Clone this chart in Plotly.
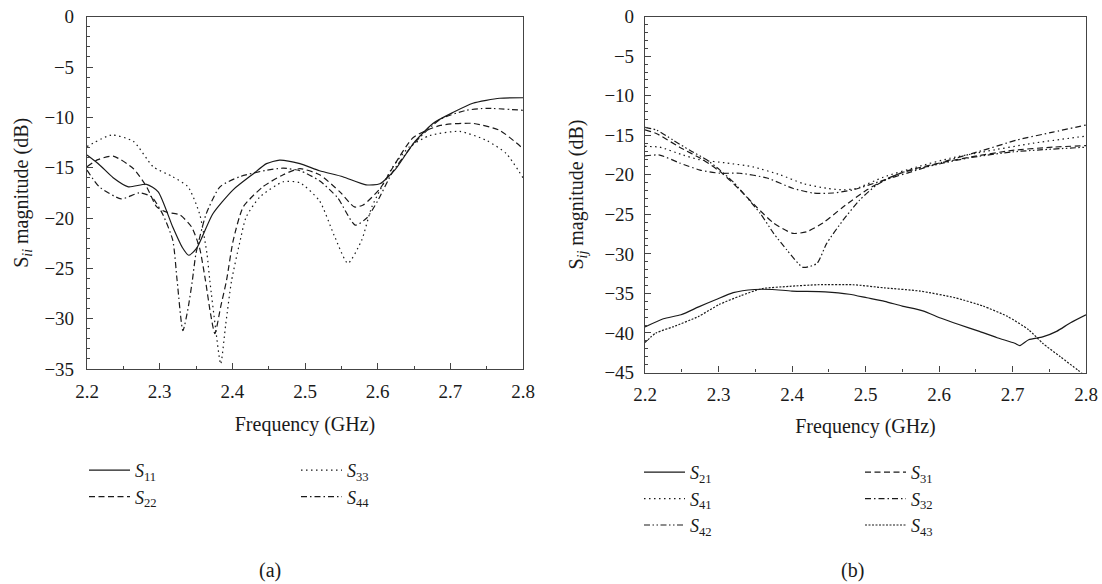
import plotly.graph_objects as go

# ---------------- data: panel (a) ----------------
f_s11 = [2.2, 2.217, 2.236, 2.257, 2.282, 2.298, 2.318, 2.331, 2.340, 2.351, 2.373, 2.401, 2.429, 2.447,
         2.465, 2.493, 2.52, 2.552, 2.584, 2.603, 2.624, 2.649, 2.676, 2.704, 2.731, 2.768, 2.8]
s11 = [-13.75, -14.7, -16.0, -16.9, -16.65, -17.4, -20.9, -22.9, -23.7, -23.0, -19.6, -17.2, -15.6, -14.6,
       -14.25, -14.6, -15.3, -15.9, -16.7, -16.6, -15.2, -12.6, -10.6, -9.5, -8.6, -8.1, -8.05]

f_s22 = [2.2, 2.215, 2.236, 2.264, 2.282, 2.296, 2.309, 2.328, 2.344, 2.355, 2.363, 2.370, 2.376, 2.384,
         2.392, 2.401, 2.415, 2.442, 2.47, 2.493, 2.52, 2.548, 2.568, 2.58, 2.603, 2.624, 2.649, 2.686,
         2.731, 2.768, 2.8]
s22 = [-14.9, -14.2, -13.85, -15.1, -16.9, -18.9, -19.4, -19.7, -20.9, -23.0, -26.2, -29.5, -31.5, -28.8,
       -26.2, -22.3, -18.9, -16.9, -15.7, -15.1, -15.7, -17.4, -18.9, -18.7, -17.1, -14.6, -12.0, -10.8,
       -10.6, -11.3, -13.1]

f_s33 = [2.2, 2.234, 2.264, 2.291, 2.318, 2.339, 2.355, 2.365, 2.369, 2.377, 2.384, 2.391, 2.399, 2.41,
         2.419, 2.438, 2.47, 2.493, 2.52, 2.54, 2.559, 2.578, 2.592, 2.621, 2.644, 2.672, 2.713, 2.75,
         2.777, 2.8]
s33 = [-12.9, -11.75, -12.4, -14.9, -15.9, -16.9, -19.6, -23.5, -26.2, -31.0, -34.5, -30.5, -26.2, -22.5,
       -19.9, -17.9, -16.4, -16.5, -18.3, -21.7, -24.5, -22.2, -18.9, -14.9, -12.9, -11.8, -11.4, -12.3,
       -13.6, -16.0]

f_s44 = [2.2, 2.217, 2.247, 2.272, 2.289, 2.304, 2.318, 2.324, 2.332, 2.339, 2.345, 2.35, 2.364, 2.383,
         2.41, 2.447, 2.47, 2.493, 2.52, 2.545, 2.569, 2.585, 2.6, 2.62, 2.65, 2.686, 2.722, 2.75, 2.8]
s44 = [-15.25, -16.9, -18.1, -17.5, -17.9, -19.6, -22.2, -26.2, -31.2, -29.0, -26.2, -23.5, -19.6, -16.9,
       -15.9, -15.25, -15.05, -15.3, -16.3, -18.0, -20.7, -20.0, -18.3, -15.5, -12.6, -10.2, -9.3, -9.1, -9.3]

# ---------------- data: panel (b) ----------------
f_s21 = [2.2, 2.225, 2.249, 2.273, 2.296, 2.32, 2.349, 2.373, 2.4, 2.445, 2.478, 2.502, 2.526, 2.55,
         2.578, 2.602, 2.626, 2.655, 2.679, 2.703, 2.71, 2.722, 2.741, 2.76, 2.779, 2.8]
s21 = [-39.24, -38.2, -37.7, -36.7, -35.8, -34.9, -34.5, -34.5, -34.7, -34.8, -35.1, -35.55, -36.0, -36.6,
       -37.2, -38.1, -38.9, -39.8, -40.6, -41.3, -41.6, -40.85, -40.5, -39.8, -38.7, -37.7]

f_s43 = [2.2, 2.215, 2.239, 2.273, 2.301, 2.33, 2.359, 2.397, 2.435, 2.483, 2.526, 2.574, 2.622, 2.66,
         2.693, 2.722, 2.741, 2.765, 2.789, 2.8]
s43 = [-41.2, -40.0, -39.2, -37.9, -36.4, -35.3, -34.4, -34.1, -33.9, -33.9, -34.3, -34.7, -35.55, -36.6,
       -37.9, -39.6, -41.3, -43.0, -44.7, -45.5]

f_s31 = [2.2, 2.216, 2.247, 2.279, 2.305, 2.329, 2.352, 2.375, 2.401, 2.42, 2.442, 2.469, 2.502, 2.529,
         2.56, 2.601, 2.646, 2.7, 2.755, 2.8]
s31 = [-14.3, -14.8, -16.5, -18.1, -19.8, -21.9, -24.1, -26.1, -27.4, -27.2, -26.1, -24.1, -21.9, -20.5,
       -19.4, -18.5, -17.7, -16.9, -16.5, -16.3]

f_s42 = [2.2, 2.216, 2.238, 2.261, 2.284, 2.302, 2.32, 2.338, 2.357, 2.375, 2.393, 2.415, 2.434, 2.447,
         2.469, 2.492, 2.515, 2.547, 2.592, 2.638, 2.7, 2.8]
s42 = [-14.0, -14.35, -15.6, -16.9, -18.1, -19.4, -20.9, -22.8, -24.9, -27.4, -29.5, -31.7, -31.2, -28.7,
       -25.8, -23.2, -21.3, -19.8, -18.8, -17.9, -17.1, -16.5]

f_s41 = [2.2, 2.22, 2.252, 2.275, 2.311, 2.347, 2.384, 2.415, 2.447, 2.47, 2.488, 2.524, 2.57, 2.615,
         2.66, 2.728, 2.8]
s41 = [-16.4, -16.5, -17.5, -18.1, -18.5, -19.0, -20.0, -21.1, -21.7, -21.9, -21.7, -20.3, -19.0, -17.9,
       -17.1, -16.0, -15.1]

f_s32 = [2.2, 2.22, 2.247, 2.275, 2.302, 2.329, 2.366, 2.401, 2.429, 2.456, 2.483, 2.524, 2.57, 2.615,
         2.66, 2.706, 2.755, 2.8]
s32 = [-17.6, -17.5, -18.5, -19.4, -19.8, -19.8, -20.4, -21.7, -22.3, -22.3, -21.9, -20.7, -19.4, -18.1,
       -16.9, -15.6, -14.6, -13.7]

x_ticks = [2.2, 2.3, 2.4, 2.5, 2.6, 2.7, 2.8]
x_title = "Frequency (GHz)"
ya_title = "S<sub><i>ii</i></sub> magnitude (dB)"
yb_title = "S<sub><i>ij</i></sub> magnitude (dB)"

FONT = "Liberation Serif"
INK = "#1a1a1a"
W, H = 1102, 584
TICK_SIZE = 19
TEXT_SIZE = 20
LEG_SIZE = 18

fig = go.Figure()

def add(fx, fy, name, dash, xa, ya, legend):
    fig.add_trace(go.Scatter(
        x=fx, y=fy, mode="lines", name=name, xaxis=xa, yaxis=ya, legend=legend,
        line=dict(color=INK, width=1.2, dash=dash, shape="spline", smoothing=0.6),
        hoverinfo="x+y+name"))

def lab(n):
    return "<i>S</i><sub>%s</sub>" % n

DASH = "6px,3.5px"
DOT = "1.5px,3.5px"
DASHDOT = "6px,3px,1.5px,3px"
DASHDOTDOT = "6px,2.5px,1.5px,2.5px,1.5px,2.5px"
FINEDOT = "2px,1.5px"

add(f_s11, s11, lab("11"), "solid", "x", "y", "legend")
add(f_s22, s22, lab("22"), DASH, "x", "y", "legend")
add(f_s33, s33, lab("33"), DOT, "x", "y", "legend2")
add(f_s44, s44, lab("44"), DASHDOT, "x", "y", "legend2")

add(f_s21, s21, lab("21"), "solid", "x2", "y2", "legend3")
add(f_s41, s41, lab("41"), DOT, "x2", "y2", "legend3")
add(f_s42, s42, lab("42"), DASHDOTDOT, "x2", "y2", "legend3")
add(f_s31, s31, lab("31"), DASH, "x2", "y2", "legend4")
add(f_s32, s32, lab("32"), DASHDOT, "x2", "y2", "legend4")
add(f_s43, s43, lab("43"), FINEDOT, "x2", "y2", "legend4")

def px_x(p):
    return p / W

def px_y(p):
    return 1 - p / H

axis_common = dict(
    showline=True, linecolor="#444", linewidth=1.2, mirror=True,
    ticks="inside", ticklen=6, tickwidth=1, tickcolor="#444",
    showgrid=False, zeroline=False, automargin=False,
    tickfont=dict(family=FONT, size=TICK_SIZE, color=INK),
    title_font=dict(family=FONT, size=TEXT_SIZE, color=INK),
)
xminor = dict(ticks="inside", ticklen=3, dtick=0.05, tickcolor="#444")
yminor = dict(ticks="inside", ticklen=3, dtick=1, tickcolor="#444")

fig.update_layout(
    width=W, height=H,
    margin=dict(l=0, r=0, t=0, b=0),
    paper_bgcolor="white", plot_bgcolor="white",
    font=dict(family=FONT, size=TEXT_SIZE, color=INK),
    xaxis=dict(domain=[px_x(87), px_x(523)], range=[2.2, 2.8], tickvals=x_ticks,
               tickformat=".1f", minor=xminor, ticklabelstandoff=5,
               anchor="y", title=dict(text=x_title, standoff=16), **axis_common),
    yaxis=dict(domain=[px_y(369), px_y(16.7)], range=[-35, 0], dtick=5,
               minor=yminor, ticklabelstandoff=8,
               anchor="x", title=dict(text=ya_title, standoff=10), **axis_common),
    xaxis2=dict(domain=[px_x(645), px_x(1086)], range=[2.2, 2.8], tickvals=x_ticks,
                tickformat=".1f", minor=xminor, ticklabelstandoff=5,
                anchor="y2", title=dict(text=x_title, standoff=14), **axis_common),
    yaxis2=dict(domain=[px_y(372.5), px_y(16.7)], range=[-45, 0], dtick=5,
                minor=yminor, ticklabelstandoff=6,
                anchor="x2", title=dict(text=yb_title, standoff=15), **axis_common),
)

leg_common = dict(bgcolor="rgba(0,0,0,0)", borderwidth=0,
                  font=dict(family=FONT, size=LEG_SIZE, color=INK),
                  xanchor="left", yanchor="top", itemwidth=41, tracegroupgap=0, orientation="v")
fig.update_layout(
    legend=dict(x=px_x(84), y=px_y(452), **leg_common),
    legend2=dict(x=px_x(296), y=px_y(452), **leg_common),
    legend3=dict(x=px_x(639), y=px_y(454), **leg_common),
    legend4=dict(x=px_x(860), y=px_y(454), **leg_common),
)

fig.add_annotation(text="(a)", x=px_x(270), y=px_y(570), xref="paper", yref="paper",
                   showarrow=False, xanchor="center", yanchor="middle",
                   font=dict(family=FONT, size=TEXT_SIZE, color=INK))
fig.add_annotation(text="(b)", x=px_x(852), y=px_y(570), xref="paper", yref="paper",
                   showarrow=False, xanchor="center", yanchor="middle",
                   font=dict(family=FONT, size=TEXT_SIZE, color=INK))

fig.write_html("out.html",
               config={"displayModeBar": False},
               post_script="document.body.style.margin='0px';document.body.style.overflow='hidden';")
